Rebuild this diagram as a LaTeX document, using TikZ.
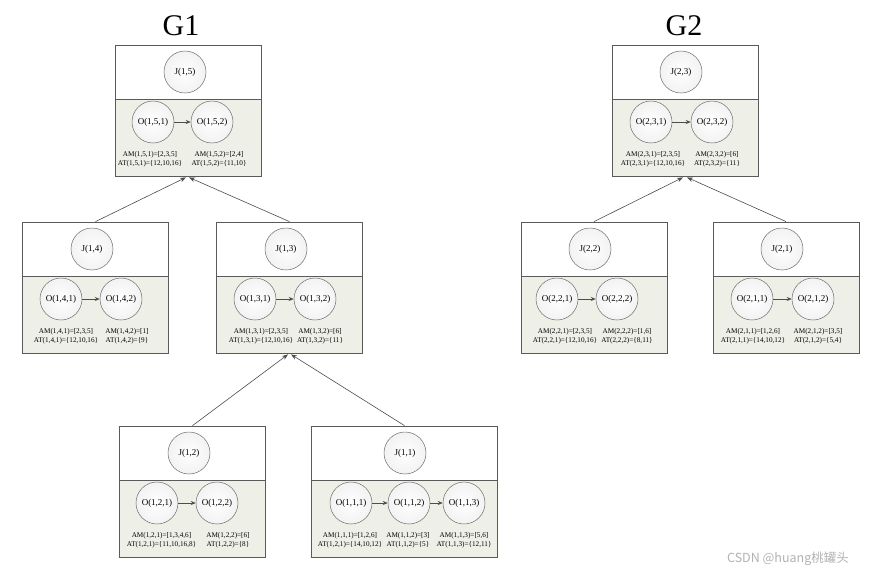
\documentclass[tikz,border=0pt]{standalone}
\usepackage{fontspec}
\setmainfont{Liberation Serif}
\newfontfamily\cjkfont{Noto Sans CJK SC}
\usetikzlibrary{arrows.meta}
\definecolor{boxline}{HTML}{5A5A5A}
\definecolor{lowfill}{HTML}{EEF0E7}
\definecolor{ringline}{HTML}{6E6E6E}
\begin{document}
\begin{tikzpicture}[x=1pt,y=-1pt,
        upper/.style={draw=boxline, fill=white, line width=0.8pt, minimum height=54pt, inner sep=0pt},
        lower/.style={draw=boxline, fill=lowfill, line width=0.8pt, minimum height=77pt, inner sep=0pt},
        ring/.style={circle, draw=ringline, line width=0.5pt, inner color=white, outer color=black!5, minimum size=42pt, inner sep=0pt, font=\fontsize{9}{10}\selectfont},
        info/.style={align=center, inner sep=0pt, font=\fontsize{7.2}{8.5}\selectfont},
        seq/.style={-{Stealth[length=5pt,width=4pt]}, draw=black!70, line width=0.6pt},
        link/.style={-{Stealth[length=6pt,width=4.5pt]}, draw=black!70, line width=0.6pt}]
        \useasboundingbox (0,0) rectangle (871,574);
        \node[font=\fontsize{30}{36}\selectfont] (g1) at (181,26) {G1};
        \node[font=\fontsize{30}{36}\selectfont] (g2) at (684,26) {G2};
        \node[upper, minimum width=146pt] (u15) at (188,72) {};
        \node[lower, minimum width=146pt] (l15) at (188,137.5) {};
        \node[ring] (j15) at (185,72) {J(1,5)};
        \node[ring] (o151) at (153,122) {O(1,5,1)};
        \node[ring] (o152) at (212,122) {O(1,5,2)};
        \node[info] (a151) at (150,159.5) {AM(1,5,1)=[2,3,5]\\AT(1,5,1)=\{12,10,16\}};
        \node[info] (a152) at (219,159.5) {AM(1,5,2)=[2,4]\\AT(1,5,2)=\{11,10\}};
        \draw[seq] (o151) -- (o152);
        \node[upper, minimum width=146pt] (u14) at (95.5,249) {};
        \node[lower, minimum width=146pt] (l14) at (95.5,314.5) {};
        \node[ring] (j14) at (92,249) {J(1,4)};
        \node[ring] (o141) at (61,299) {O(1,4,1)};
        \node[ring] (o142) at (121,299) {O(1,4,2)};
        \node[info] (a141) at (66,336.5) {AM(1,4,1)=[2,3,5]\\AT(1,4,1)=\{12,10,16\}};
        \node[info] (a142) at (127,336.5) {AM(1,4,2)=[1]\\AT(1,4,2)=\{9\}};
        \draw[seq] (o141) -- (o142);
        \node[upper, minimum width=146pt] (u13) at (289.5,249) {};
        \node[lower, minimum width=146pt] (l13) at (289.5,314.5) {};
        \node[ring] (j13) at (286,249) {J(1,3)};
        \node[ring] (o131) at (255,299) {O(1,3,1)};
        \node[ring] (o132) at (315,299) {O(1,3,2)};
        \node[info] (a131) at (261,336.5) {AM(1,3,1)=[2,3,5]\\AT(1,3,1)=\{12,10,16\}};
        \node[info] (a132) at (320,336.5) {AM(1,3,2)=[6]\\AT(1,3,2)=\{11\}};
        \draw[seq] (o131) -- (o132);
        \node[upper, minimum width=146pt] (u12) at (192.5,453) {};
        \node[lower, minimum width=146pt] (l12) at (192.5,518.5) {};
        \node[ring] (j12) at (189,453) {J(1,2)};
        \node[ring] (o121) at (157,503) {O(1,2,1)};
        \node[ring] (o122) at (217,503) {O(1,2,2)};
        \node[info] (a121) at (161.5,540.5) {AM(1,2,1)=[1,3,4,6]\\AT(1,2,1)=\{11,10,16,8\}};
        \node[info] (a122) at (228,540.5) {AM(1,2,2)=[6]\\AT(1,2,2)=\{8\}};
        \draw[seq] (o121) -- (o122);
        \node[upper, minimum width=186pt] (u11) at (404.5,453) {};
        \node[lower, minimum width=186pt] (l11) at (404.5,518.5) {};
        \node[ring] (j11) at (405,453) {J(1,1)};
        \node[ring] (o111) at (351,503) {O(1,1,1)};
        \node[ring] (o112) at (409,503) {O(1,1,2)};
        \node[ring] (o113) at (464,503) {O(1,1,3)};
        \node[info] (a111) at (350,540.5) {AM(1,1,1)=[1,2,6]\\AT(1,2,1)=\{14,10,12\}};
        \node[info] (a112) at (408,540.5) {AM(1,1,2)=[3]\\AT(1,1,2)=\{5\}};
        \node[info] (a113) at (464,540.5) {AM(1,1,3)=[5,6]\\AT(1,1,3)=\{12,11\}};
        \draw[seq] (o111) -- (o112);
        \draw[seq] (o112) -- (o113);
        \node[upper, minimum width=146pt] (u23) at (685,72) {};
        \node[lower, minimum width=146pt] (l23) at (685,137.5) {};
        \node[ring] (j23) at (681,72) {J(2,3)};
        \node[ring] (o231) at (651,122) {O(2,3,1)};
        \node[ring] (o232) at (712,122) {O(2,3,2)};
        \node[info] (a231) at (653,159.5) {AM(2,3,1)=[2,3,5]\\AT(2,3,1)=\{12,10,16\}};
        \node[info] (a232) at (717,159.5) {AM(2,3,2)=[6]\\AT(2,3,2)=\{11\}};
        \draw[seq] (o231) -- (o232);
        \node[upper, minimum width=146pt] (u22) at (594,249) {};
        \node[lower, minimum width=146pt] (l22) at (594,314.5) {};
        \node[ring] (j22) at (590,249) {J(2,2)};
        \node[ring] (o221) at (557,299) {O(2,2,1)};
        \node[ring] (o222) at (617,299) {O(2,2,2)};
        \node[info] (a221) at (565,336.5) {AM(2,2,1)=[2,3,5]\\AT(2,2,1)=\{12,10,16\}};
        \node[info] (a222) at (627,336.5) {AM(2,2,2)=[1,6]\\AT(2,2,2)=\{8,11\}};
        \draw[seq] (o221) -- (o222);
        \node[upper, minimum width=146pt] (u21) at (786,249) {};
        \node[lower, minimum width=146pt] (l21) at (786,314.5) {};
        \node[ring] (j21) at (782,249) {J(2,1)};
        \node[ring] (o211) at (752,299) {O(2,1,1)};
        \node[ring] (o212) at (813,299) {O(2,1,2)};
        \node[info] (a211) at (753,336.5) {AM(2,1,1)=[1,2,6]\\AT(2,1,1)=\{14,10,12\}};
        \node[info] (a212) at (818,336.5) {AM(2,1,2)=[3,5]\\AT(2,1,2)=\{5,4\}};
        \draw[seq] (o211) -- (o212);
        \draw[link] (u14.north) -- ([xshift=-2pt,yshift=-1pt]l15.south);
        \draw[link] (u13.north) -- ([xshift=1pt,yshift=-1pt]l15.south);
        \draw[link] (u12.north) -- ([xshift=-1.5pt,yshift=-1pt]l13.south);
        \draw[link] (u11.north) -- ([xshift=1.5pt,yshift=-1pt]l13.south);
        \draw[link] (u22.north) -- ([xshift=-2pt,yshift=-1pt]l23.south);
        \draw[link] (u21.north) -- ([xshift=2pt,yshift=-1pt]l23.south);
        \node[font=\cjkfont\fontsize{12.5}{14}\selectfont, text=black!30] (mark) at (788,559) {CSDN @huang桃罐头};
\end{tikzpicture}
\end{document}
